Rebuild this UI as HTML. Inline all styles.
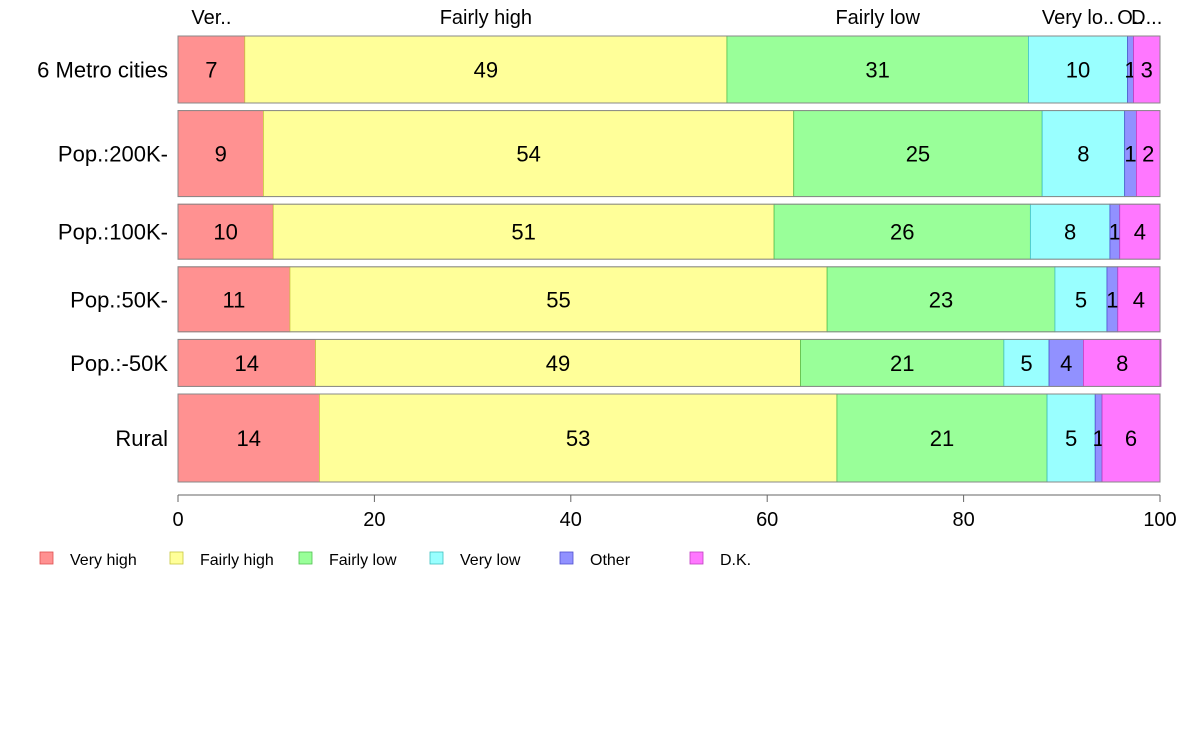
<!DOCTYPE html>
<html><head><meta charset="utf-8"><style>
body{margin:0;background:#fff;font-family:"Liberation Sans",Arial,sans-serif}
</style></head><body>
<svg id="chart" width="1188" height="736" xmlns="http://www.w3.org/2000/svg" font-family="Liberation Sans, Arial, sans-serif"></svg>
<script>
const categories=["6 Metro cities","Pop.:200K-","Pop.:100K-","Pop.:50K-","Pop.:-50K","Rural"];
const seriesNames=["Very high","Fairly high","Fairly low","Very low","Other","D.K."];
const rowWeights=[67,86,55,65,47,88];
const veryHigh=[6.8,8.7,9.7,11.4,14.0,14.4];
const fairlyHigh=[49.1,54.0,51.0,54.7,49.4,52.7];
const fairlyLow=[30.7,25.3,26.1,23.2,20.7,21.4];
const veryLow=[10.1,8.4,8.1,5.3,4.6,4.9];
const other=[0.6,1.2,1.0,1.1,3.5,0.7];
const dk=[2.7,2.4,4.1,4.3,7.9,5.9];
const topLabels=["Ver..","Fairly high","Fairly low","Very lo..","O..","D..."];
const xTicks=[0,20,40,60,80,100];
const series=[veryHigh,fairlyHigh,fairlyLow,veryLow,other,dk];
const fills=["#ff9191","#ffff99","#99ff99","#99ffff","#9191ff","#ff77ff"];
const strokes=["#e05050","#c8c840","#50c050","#40c0c0","#5050d0","#c040c0"];
const svg=document.getElementById('chart');
const NS="http://www.w3.org/2000/svg";
function mk(t,a,txt){const e=document.createElementNS(NS,t);for(const k in a)e.setAttribute(k,a[k]);if(txt!==undefined)e.textContent=txt;svg.appendChild(e);return e;}
const x0=178,x1=1160,yTop=36,yBot=482,gap=7.6;
const xs=v=>x0+(x1-x0)*v/100;
const totalW=rowWeights.reduce((a,b)=>a+b,0);
const avail=yBot-yTop-gap*(categories.length-1);
let y=yTop;
categories.forEach((c,i)=>{
  const h=avail*rowWeights[i]/totalW;
  let cum=0;
  series.forEach((s,j)=>{
    const v=s[i];
    const r=mk('rect',{x:xs(cum),y:y,width:xs(cum+v)-xs(cum),height:h,fill:fills[j],stroke:strokes[j],'stroke-width':0.8});
    
    
    const t=mk('text',{x:(xs(cum)+xs(cum+v))/2,y:y+h/2+8,'text-anchor':'middle','font-size':22,fill:'#000'},Math.round(v));
    
    
    if(i===0){
      const tl=mk('text',{x:(xs(cum)+xs(cum+v))/2,y:24,'text-anchor':'middle','font-size':20},topLabels[j]);
      
      
    }
    cum+=v;
  });
  const o=mk('rect',{x:x0,y:y,width:x1-x0,height:h,fill:'none',stroke:'#888','stroke-width':1});
  
  
  const ct=mk('text',{x:168,y:y+h/2+8,'text-anchor':'end','font-size':22},c);
  
  
  y+=h+gap;
});
const ax=mk('line',{x1:x0,x2:x1,y1:495,y2:495,stroke:'#666'});


xTicks.forEach(t=>{
  const l=mk('line',{x1:xs(t),x2:xs(t),y1:495,y2:502,stroke:'#666'});
  
  
  const tx=mk('text',{x:xs(t),y:526,'text-anchor':'middle','font-size':20},t);
  
  
});
const legX=[40,170,299,430,560,690];
seriesNames.forEach((n,j)=>{
  const r=mk('rect',{x:legX[j],y:552,width:13,height:12,fill:fills[j],stroke:strokes[j],'stroke-width':0.8});
  
  
  const t=mk('text',{x:legX[j]+30,y:565,'font-size':16},n);
  
  
});
</script>
</body></html>
